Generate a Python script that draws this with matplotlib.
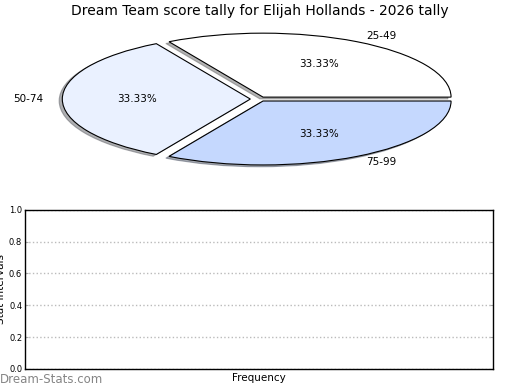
import matplotlib
matplotlib.use('Agg')
import matplotlib.pyplot as plt

# pie data
labels = ['25-49', '50-74', '75-99']
counts = [1, 1, 1]
colors = ['#ffffff', '#eaf1ff', '#c5d8fe']
explode = [0.035, 0.05, 0.035]

yticks = [0.0, 0.2, 0.4, 0.6, 0.8, 1.0]

fig = plt.figure(figsize=(5.2, 3.9), dpi=100)

# top: pie
ax1 = fig.add_axes([0.0475, 0.541, 0.904, 0.41])
ax1.pie(counts, labels=labels, colors=colors, explode=explode,
        autopct='%.2f%%', shadow={'ox': -0.012, 'oy': -0.02, 'shade': 0.6},
        startangle=0, counterclock=True,
        wedgeprops={'edgecolor': 'black', 'linewidth': 0.8},
        textprops={'fontsize': 7.5})
ax1.set_aspect('auto')
ax1.set_xlim(-1.25, 1.25)
ax1.set_ylim(-1.25, 1.25)
ax1.set_title('Dream Team score tally for Elijah Hollands - 2026 tally',
              fontsize=10, pad=3)

# bottom: empty bar area
ax2 = fig.add_axes([0.048, 0.054, 0.9, 0.408])
ax2.set_ylim(0, 1)
ax2.set_yticks(yticks)
ax2.set_yticklabels(['%.1f' % v for v in yticks], fontsize=6)
ax2.set_xticks([])
ax2.tick_params(axis='y', direction='in', length=2, color='#aaaaaa',
                right=True, pad=2)
ax2.grid(axis='y', linestyle=':', color='#bbbbbb', linewidth=1)
for s in ax2.spines.values():
    s.set_linewidth(1)
ax2.set_xlabel('Frequency', fontsize=7.5, labelpad=3)
ax2.set_ylabel('Stat Intervals', fontsize=7.5)
ax2.yaxis.set_label_coords(-0.04, 0.5)

fig.text(0.0, 0.026, 'Dream-Stats.com', fontsize=8.5, color='#858585',
         va='center', ha='left')

plt.savefig('out.png', dpi=100)
